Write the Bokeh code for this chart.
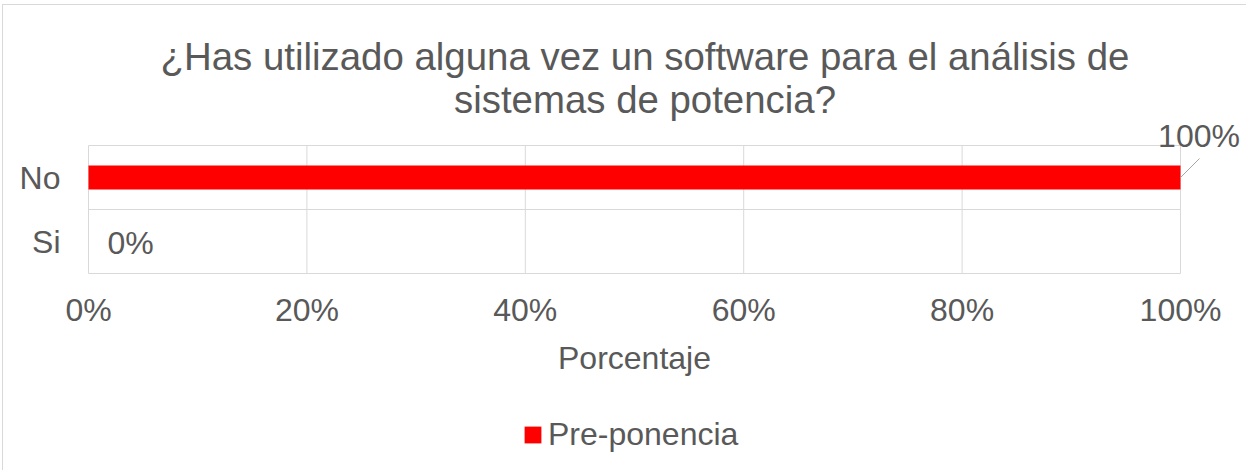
from bokeh.plotting import figure
from bokeh.models import (Range1d, FixedTicker, NumeralTickFormatter, Label, Arrow,
                          Legend, LegendItem, ColumnDataSource)
from bokeh.embed import file_html
from bokeh.resources import INLINE

# ---- data ----
categories = ["No", "Si"]
values = [1.00, 0.00]
series_name = "Pre-ponencia"
x_ticks = [0.0, 0.2, 0.4, 0.6, 0.8, 1.0]
title_lines = ["¿Has utilizado alguna vez un software para el análisis de",
               "sistemas de potencia?"]
x_axis_title = "Porcentaje"

# ---- style / layout ----
FONT = "Liberation Sans"
TXT = "#595959"
GRID = "#D9D9D9"
RED = "#FF0000"
FS = "32px"

W, H = 1244, 466
# plot-area edges in canvas px
PL, PR, PT, PB = 85, 1177, 140, 268
n = len(categories)
ypos = [n - i - 0.5 for i in range(n)]

ppx = (PR - PL) / (x_ticks[-1] - x_ticks[0])   # px per x unit
ppy = (PB - PT) / n                            # px per y unit
x_range = Range1d(x_ticks[0] - PL / ppx, x_ticks[-1] + (W - PR) / ppx)
y_range = Range1d(0 - (H - PB) / ppy, n + PT / ppy)

p = figure(width=W, height=H, output_backend="svg", toolbar_location=None,
           x_range=x_range, y_range=y_range,
           min_border_left=0, min_border_right=0, min_border_top=0, min_border_bottom=0)
p.margin = (4, 0, 0, 2)
p.styles = {"border-left": "1px solid #D9D9D9", "border-top": "1px solid #D9D9D9"}
p.background_fill_color = "white"
p.border_fill_color = "white"
p.outline_line_color = None
p.xgrid.visible = False
p.ygrid.visible = False

# plot-area gridlines (at the x ticks and at category boundaries)
bounds_y = list(range(n + 1))
p.segment(x0=x_ticks, y0=[0] * len(x_ticks), x1=x_ticks, y1=[n] * len(x_ticks),
          line_color=GRID, line_width=1)
p.segment(x0=[x_ticks[0]] * len(bounds_y), y0=bounds_y,
          x1=[x_ticks[-1]] * len(bounds_y), y1=bounds_y,
          line_color=GRID, line_width=1)

src = ColumnDataSource(dict(y=ypos, v=values, cat=categories))
r = p.hbar(y="y", left=0, right="v", height=0.375, fill_color=RED, line_color=None, source=src)

# axes fixed at the plot-area edges
xa = p.xaxis[0]
xa.fixed_location = 0
xa.bounds = (x_ticks[0], x_ticks[-1])
xa.ticker = FixedTicker(ticks=x_ticks)
xa.formatter = NumeralTickFormatter(format="0%")
xa.axis_line_color = None
xa.major_tick_line_color = None
xa.minor_tick_line_color = None
xa.major_label_text_font = FONT
xa.major_label_text_font_size = FS
xa.major_label_text_color = TXT
xa.major_label_standoff = 12
xa.axis_label = x_axis_title
xa.axis_label_text_font = FONT
xa.axis_label_text_font_size = FS
xa.axis_label_text_font_style = "normal"
xa.axis_label_text_color = TXT
xa.axis_label_standoff = 9

ya = p.yaxis[0]
ya.fixed_location = x_ticks[0]
ya.bounds = (0, n)
ya.ticker = FixedTicker(ticks=ypos)
ya.major_label_overrides = {y: c for y, c in zip(ypos, categories)}
ya.axis_line_color = None
ya.major_tick_line_color = None
ya.minor_tick_line_color = None
ya.major_label_text_font = FONT
ya.major_label_text_font_size = FS
ya.major_label_text_color = TXT
ya.major_label_standoff = 22

# data labels
for y, v in zip(ypos, values):
    txt = f"{v:.0%}"
    if v >= x_ticks[-1]:
        p.add_layout(Arrow(x_start=v, y_start=y, x_end=v + 19 / ppx, y_end=y + 19 / ppy,
                           end=None, line_color="#A6A6A6", line_width=1))
        p.add_layout(Label(x=v, y=y, text=txt, x_offset=18.5, y_offset=41.5,
                           text_align="center", text_baseline="middle",
                           text_font=FONT, text_font_size=FS, text_color=TXT))
    else:
        p.add_layout(Label(x=v, y=y, text=txt, x_offset=19, y_offset=-1,
                           text_align="left", text_baseline="middle",
                           text_font=FONT, text_font_size=FS, text_color=TXT))

# chart title (two centred lines; vertical centres in canvas px from top)
title_cx = 641.5
title_centres = [50.7, 93.9]
for line, cy in zip(title_lines, title_centres):
    p.add_layout(Label(x=title_cx, y=H - cy, x_units="screen", y_units="screen",
                       text=line, text_align="center", text_baseline="middle",
                       text_font=FONT, text_font_size="38.4px", text_color=TXT))

# legend below the axis title (location = bottom-left corner, screen px)
legend = Legend(items=[LegendItem(label=series_name, renderers=[r])],
                location=(519, 18.5), orientation="horizontal",
                glyph_width=21, glyph_height=21, label_standoff=5,
                label_text_font=FONT, label_text_font_size=FS, label_text_color=TXT,
                border_line_color=None, background_fill_alpha=0, margin=0, padding=0)
p.add_layout(legend, "center")

open("out.html", "w").write(file_html(p, INLINE))
